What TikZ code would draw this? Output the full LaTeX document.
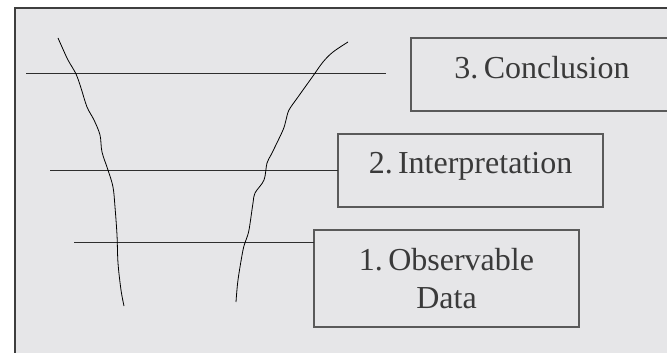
\documentclass[tikz,border=0pt]{standalone}
\usepackage{fontspec}
\setmainfont{Liberation Serif}
\begin{document}
\begin{tikzpicture}[x=1pt,y=-1pt,
  every node/.style={inner sep=0pt,outer sep=0pt},
  stagebox/.style={draw=boxline,line width=1.2pt,fill=panel,text=ink,
    font=\fontsize{32}{38}\selectfont,align=center,anchor=north west},
  level/.style={draw=rule,line width=1pt},
  funnel/.style={draw=black,line width=0.8pt}]
\definecolor{panel}{HTML}{E6E6E8}
\definecolor{frame}{HTML}{3E3E3E}
\definecolor{boxline}{HTML}{5A5A5A}
\definecolor{rule}{HTML}{2E2E2E}
\definecolor{ink}{HTML}{3A3A3A}
\useasboundingbox (0,0) rectangle (667,353);
\begin{scope}
\clip (0,0) rectangle (667,353);
% panel with its top and left frame
\fill[panel] (15,8) rectangle (680,360);
\draw[frame,line width=2.8pt] (15,365) -- (15,8) -- (680,8);

% stage boxes
\node[stagebox,minimum width=262pt,minimum height=73pt,text height=22pt,text depth=13pt] (concl) at (411,38) {3.\,Conclusion};
\node[stagebox,minimum width=265pt,minimum height=73pt,text height=22pt,text depth=16pt] (interp) at (338,134) {2.\,Interpretation};
\node[stagebox,minimum width=265pt,minimum height=97pt] (obs) at (314,230) {1.\,Observable\\Data};

% levels
\coordinate (l1a) at (26,74);
\coordinate (l1b) at (386,74);
\coordinate (l2a) at (50,170.5);
\coordinate (l3a) at (74,242.5);
\draw[level] (l1a) -- (l1b);
\draw[level] (l2a) -- (interp.west);
\draw[level] (l3a) -- (l3a -| obs.west);

% funnel sides
\draw[funnel] plot[smooth,tension=0.55] coordinates {(58,38) (62,47) (68,60) (76,74) (81,88) (87,107) (94,120) (100,135) (102,152) (108,170) (113,187) (115,207) (117,235) (118,263) (121,290) (124,306)};
\draw[funnel] plot[smooth,tension=0.55] coordinates {(348,42) (333,52) (323,62) (313,76) (298,97) (289,110) (286,120) (283,130) (272,153) (267,163) (264,180) (255,193) (253,203) (249,230) (246,240) (243,250) (238,280) (236,302)};
\end{scope}
\end{tikzpicture}
\end{document}
